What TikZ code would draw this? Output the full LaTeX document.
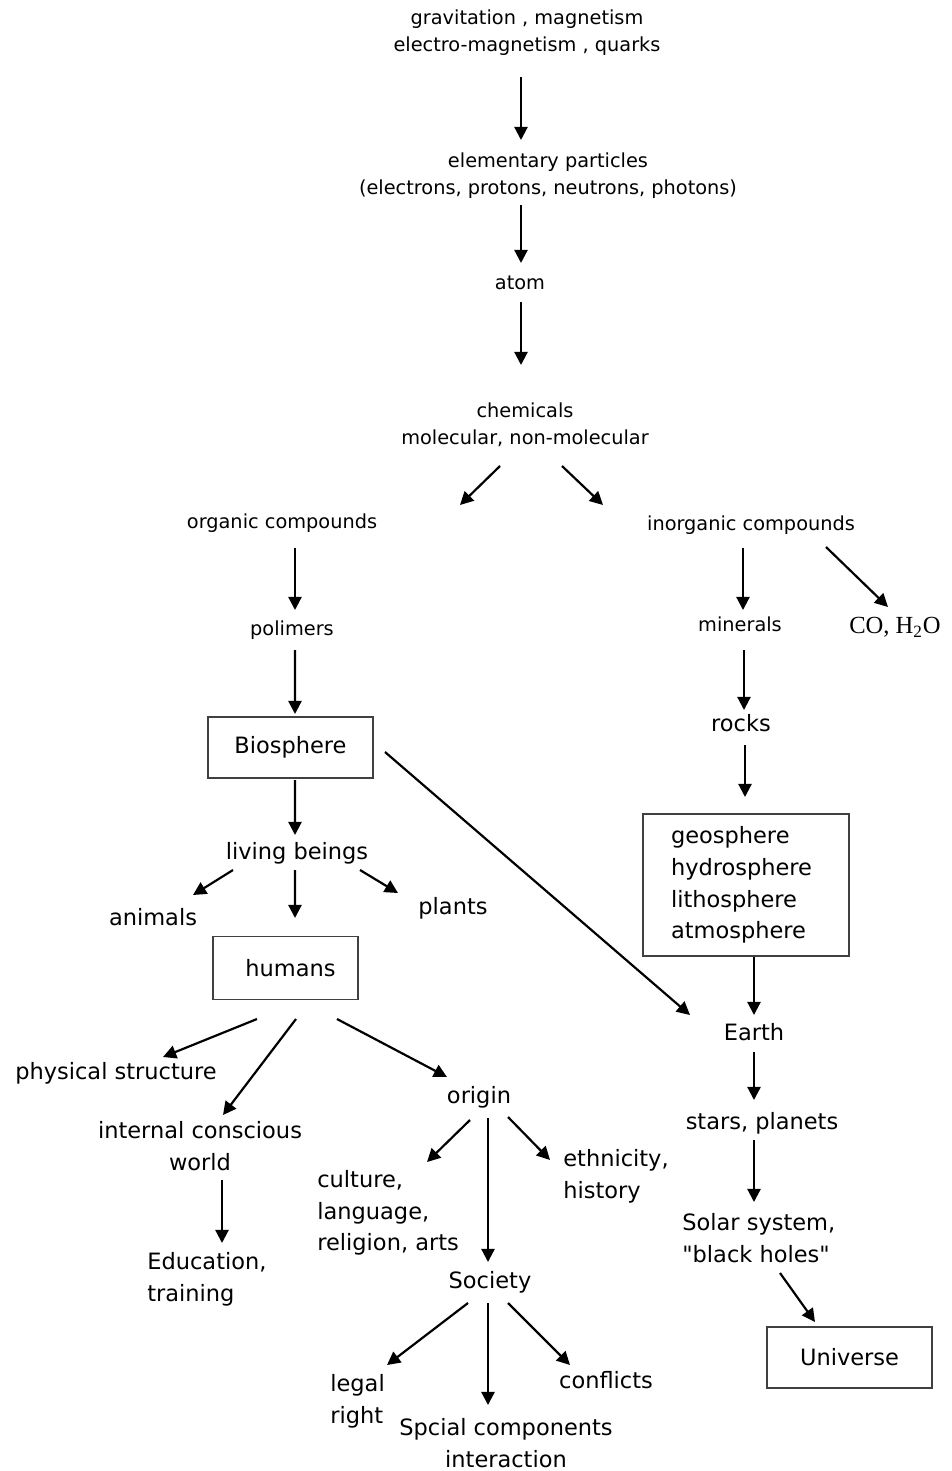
\documentclass[tikz,border=0pt]{standalone}
\usepackage{fontspec}
\setmainfont{DejaVu Sans}
\newfontfamily\cofont{Liberation Serif}
\usetikzlibrary{arrows.meta}

\tikzset{
  sm/.style={font=\fontsize{11}{15.3}\selectfont, align=center, inner sep=0pt},
  lg/.style={font=\fontsize{12.8}{18}\selectfont, align=center, inner sep=0pt},
  lgl/.style={lg, align=left, anchor=west},
  boxed/.style={lg, draw=black!75, line width=1pt},
  arr/.style={-{Triangle[length=7.5pt,width=7.5pt]}, line width=1.25pt},
}

\begin{document}
\begin{tikzpicture}[x=0.02cm,y=-0.02cm]
  \useasboundingbox (0,0) rectangle (952,1471);

  \draw (527,33)   node (grav)  [sm] {gravitation , magnetism\\electro-magnetism , quarks};
  \draw (548,176)  node (elem)  [sm] {elementary particles\\(electrons, protons, neutrons, photons)};
  \draw (520,283)  node (atom)  [sm] {atom};
  \draw (525,425)  node (chem)  [sm] {chemicals\\molecular, non-molecular};
  \draw ([shift={(-6,44)}]grav.center) -- ([shift={(-27,-36)}]elem.center) [arr];
  \draw ([shift={(-27,29)}]elem.center) -- ([shift={(1,-20)}]atom.center) [arr];
  \draw ([shift={(1,19)}]atom.center) -- ([shift={(-4,-60)}]chem.center) [arr];

  \draw (282,523)  node (org)   [sm] {organic compounds};
  \draw (751,525)  node (inorg) [sm] {inorganic compounds};
  \draw ([shift={(-25,41)}]chem.center) -- ([shift={(178,-18)}]org.center) [arr];
  \draw ([shift={(37,41)}]chem.center) -- ([shift={(-148,-20)}]inorg.center) [arr];

  % organic side
  \draw (292,630)  node (pol)   [sm] {polimers};
  \draw (290.5,747.5) node (bio) [boxed, minimum width=3.3cm, minimum height=1.22cm] {Biosphere};
  \draw (297,853)  node (living) [lg] {living beings};
  \draw (153,917)  node (animals) [lg] {animals};
  \draw (453,908)  node (plants) [lg] {plants};
  \draw (285.5,968) node (humans) [boxed, minimum width=2.9cm, minimum height=1.26cm] {\hspace{0.2cm}humans};
  \draw ([shift={(13,25)}]org.center) -- ([shift={(3,-20)}]pol.center) [arr];
  \draw ([shift={(3,20)}]pol.center) -- ([shift={(4.5,-33.5)}]bio.center) [arr];
  \draw ([shift={(4.5,32.5)}]bio.center) -- ([shift={(-2,-18)}]living.center) [arr];
  \draw ([shift={(-64,17)}]living.center) -- ([shift={(40,-22)}]animals.center) [arr];
  \draw ([shift={(-2,17)}]living.center) -- ([shift={(9.5,-50)}]humans.center) [arr];
  \draw ([shift={(63,17)}]living.center) -- ([shift={(-55,-15)}]plants.center) [arr];

  \draw (116,1073) node (phys)  [lg] {physical structure};
  \draw (200,1146) node (inner) [lg] {internal conscious\\world};
  \draw (479,1097) node (origin) [lg] {origin};
  \draw (147,1279) node (edu)   [lgl] {Education,\\training};
  \draw ([shift={(-28.5,51)}]humans.center) -- ([shift={(47,-16)}]phys.center) [arr];
  \draw ([shift={(10.5,51)}]humans.center) -- ([shift={(23,-31)}]inner.center) [arr];
  \draw ([shift={(51.5,51)}]humans.center) -- ([shift={(-32,-20)}]origin.center) [arr];
  \draw ([shift={(22,34)}]inner.center) -- ([shift={(75,-36)}]edu.west) [arr];

  \draw (317,1213) node (culture) [lgl] {culture,\\language,\\religion, arts};
  \draw (563,1176) node (ethn)  [lgl] {ethnicity,\\history};
  \draw (490,1282) node (soc)   [lg] {Society};
  \draw ([shift={(-9,23)}]origin.center) -- ([shift={(110,-51)}]culture.west) [arr];
  \draw ([shift={(9,21)}]origin.center) -- ([shift={(-2,-20)}]soc.center) [arr];
  \draw ([shift={(29,20)}]origin.center) -- ([shift={(-13,-16)}]ethn.west) [arr];

  \draw (330,1401) node (legal) [lgl] {legal\\right};
  \draw (506,1443) node (spcial) [lg] {Spcial components\\interaction};
  \draw (606,1380) node (confl) [lg] {conflicts};
  \draw ([shift={(-22,21)}]soc.center) -- ([shift={(57,-36)}]legal.west) [arr];
  \draw ([shift={(-2,21)}]soc.center) -- ([shift={(-18,-38)}]spcial.center) [arr];
  \draw ([shift={(18,21)}]soc.center) -- ([shift={(-36,-15)}]confl.center) [arr];

  % inorganic side
  \draw (740,624)  node (min)   [sm] {minerals};
  \draw (895,627)  node (co)    [font=\cofont\fontsize{14}{16}\selectfont, inner sep=0pt] {CO, H\textsubscript{2}O};
  \draw (741,723)  node (rocks) [lg] {rocks};
  \draw (746,885)  node (geo)   [boxed, align=left, inner xsep=0.56cm, text width=3cm, minimum height=2.84cm]
        {geosphere\\hydrosphere\\lithosphere\\atmosphere};
  \draw ([shift={(-8,23)}]inorg.center) -- ([shift={(3,-14)}]min.center) [arr];
  \draw ([shift={(75,22)}]inorg.center) -- ([shift={(-7,-20)}]co.center) [arr];
  \draw ([shift={(4,26)}]min.center) -- ([shift={(3,-13)}]rocks.center) [arr];
  \draw ([shift={(4,22)}]rocks.center) -- ([shift={(-1,-88)}]geo.center) [arr];

  \draw (754,1032) node (earth) [lg] {Earth};
  \draw (762,1123) node (stars) [lg] {stars, planets};
  \draw (682,1238) node (solar) [lgl] {Solar system,\\\textquotedbl black holes\textquotedbl};
  \draw (849.5,1357.5) node (univ) [boxed, minimum width=3.3cm, minimum height=1.22cm] {Universe};
  \draw ([shift={(8,72)}]geo.center) -- ([shift={(0,-17)}]earth.center) [arr];
  \draw ([shift={(94.5,4.5)}]bio.center) -- ([shift={(-64,-17)}]earth.center) [arr];
  \draw ([shift={(0,20)}]earth.center) -- ([shift={(-8,-23)}]stars.center) [arr];
  \draw ([shift={(-8,17)}]stars.center) -- ([shift={(72,-36)}]solar.west) [arr];
  \draw ([shift={(98,35)}]solar.west) -- ([shift={(-34.5,-35.5)}]univ.center) [arr];
\end{tikzpicture}
\end{document}
